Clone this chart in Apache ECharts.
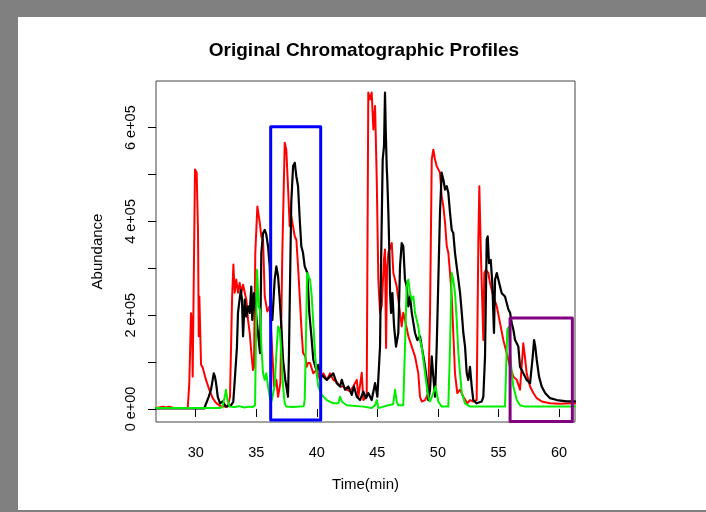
<!DOCTYPE html>
<html>
<head>
<meta charset="utf-8">
<script src="https://cdn.jsdelivr.net/npm/echarts@6/dist/echarts.min.js"></script>
<style>html,body{margin:0;padding:0;background:#fff}#c{width:706px;height:512px}</style>
</head>
<body>
<div id="c"></div>
<script>
const chartTitle = 'Original Chromatographic Profiles';
const xName = 'Time(min)';
const yName = 'Abundance';
const xTicks = [30, 35, 40, 45, 50, 55, 60];
const yTicks = [0, 100000, 200000, 300000, 400000, 500000, 600000];
const yLabelTicks = [0, 200000, 400000, 600000];

const redData = [
[26.72,2000],[27.30,5000],[27.55,3000],[27.80,5000],[28.20,2000],[29.34,2000],[29.47,55000],[29.61,204000],[29.69,184000],[29.75,69000],[29.94,511000],[30.08,504000],[30.19,376000],[30.25,155000],[30.30,240000],[30.44,95000],[30.58,88000],[30.85,62000],[31.12,41000],[31.40,23000],[31.68,13000],[32.09,5000],[32.64,5000],[32.83,26000],[33.00,233000],[33.11,308000],[33.22,248000],[33.35,276000],[33.49,248000],[33.63,269000],[33.77,248000],[33.91,265000],[34.05,248000],[34.18,233000],[34.32,190000],[34.46,162000],[34.59,120000],[34.73,83000],[34.81,90000],[34.92,333000],[35.09,432000],[35.20,430000],[35.29,397000],[35.42,368000],[35.56,361000],[35.70,240000],[35.91,208000],[36.11,219000],[36.24,162000],[36.47,48000],[36.66,62000],[36.80,26000],[36.99,55000],[37.15,333000],[37.35,568000],[37.48,553000],[37.62,475000],[37.76,390000],[37.89,411000],[38.04,411000],[38.18,368000],[38.31,361000],[38.45,304000],[38.59,240000],[38.72,176000],[38.86,120000],[39.05,112000],[39.17,90000],[39.27,98000],[39.44,98000],[39.71,76000],[39.99,83000],[40.26,62000],[40.54,76000],[40.82,62000],[41.09,76000],[41.36,62000],[41.64,58000],[41.92,48000],[42.19,48000],[42.47,41000],[42.74,38000],[43.01,48000],[43.30,62000],[43.43,26000],[43.71,77000],[43.84,19000],[44.12,26000],[44.25,675000],[44.39,660000],[44.53,675000],[44.67,596000],[44.81,646000],[44.95,489000],[45.08,276000],[45.22,205000],[45.36,220000],[45.55,320000],[45.63,340000],[45.72,130000],[45.80,300000],[45.91,333000],[46.19,354000],[46.32,290000],[46.60,261000],[46.87,205000],[47.01,176000],[47.14,205000],[47.28,190000],[47.56,155000],[47.84,133000],[48.11,112000],[48.38,76000],[48.52,26000],[48.66,16000],[48.94,19000],[49.21,34000],[49.35,205000],[49.49,532000],[49.62,553000],[49.76,532000],[49.90,518000],[50.03,521000],[50.17,504000],[50.31,454000],[50.45,432000],[50.59,397000],[50.73,347000],[50.86,333000],[51.00,290000],[51.14,240000],[51.27,162000],[51.41,76000],[51.60,34000],[51.83,41000],[52.10,26000],[52.43,12000],[52.65,19000],[52.92,16000],[53.20,19000],[53.34,361000],[53.42,475000],[53.54,340000],[53.67,340000],[53.75,147000],[53.83,290000],[53.97,297000],[54.16,290000],[54.30,269000],[54.58,240000],[54.86,219000],[55.13,183000],[55.40,147000],[55.68,119000],[55.96,90000],[56.23,69000],[56.51,62000],[56.78,41000],[57.05,140000],[57.19,110000],[57.33,76000],[57.61,48000],[57.88,34000],[58.16,23000],[58.57,16000],[59.26,12000],[60.08,11000],[61.18,12000],[61.32,12000]
];

const blackData = [
[26.72,1000],[30.70,1000],[30.85,5000],[31.07,26000],[31.26,41000],[31.40,62000],[31.49,76000],[31.59,69000],[31.68,55000],[31.82,26000],[32.01,12000],[32.23,16000],[32.50,5000],[32.92,8000],[33.10,15000],[33.22,60000],[33.40,130000],[33.49,205000],[33.72,254000],[33.82,233000],[33.91,155000],[34.05,233000],[34.18,197000],[34.32,219000],[34.46,205000],[34.59,261000],[34.67,190000],[34.81,247000],[34.92,219000],[35.09,176000],[35.20,147000],[35.31,119000],[35.42,333000],[35.56,375000],[35.70,382000],[35.83,372000],[35.97,347000],[36.11,304000],[36.19,219000],[36.33,190000],[36.52,276000],[36.66,304000],[36.80,283000],[36.94,233000],[37.07,176000],[37.21,105000],[37.40,62000],[37.62,26000],[37.70,119000],[37.89,440000],[38.04,518000],[38.18,525000],[38.31,496000],[38.45,475000],[38.59,404000],[38.72,347000],[38.86,333000],[39.00,304000],[39.22,290000],[39.38,205000],[39.58,147000],[39.71,105000],[39.96,83000],[40.12,94000],[40.26,76000],[40.54,69000],[40.82,62000],[41.09,69000],[41.36,76000],[41.64,55000],[41.92,48000],[42.06,62000],[42.33,41000],[42.60,48000],[42.88,30000],[43.07,48000],[43.30,26000],[43.57,19000],[43.84,37000],[44.06,23000],[44.25,34000],[44.53,19000],[44.81,55000],[45.00,26000],[45.22,133000],[45.30,300000],[45.44,532000],[45.55,561000],[45.63,675000],[45.69,596000],[45.77,518000],[45.82,489000],[45.91,418000],[45.99,333000],[46.05,247000],[46.13,205000],[46.24,247000],[46.38,176000],[46.54,133000],[46.73,162000],[46.87,304000],[47.01,354000],[47.14,347000],[47.28,276000],[47.42,261000],[47.56,219000],[47.70,240000],[47.84,205000],[47.97,205000],[48.11,162000],[48.30,147000],[48.52,155000],[48.66,133000],[48.80,112000],[48.94,90000],[49.08,62000],[49.21,19000],[49.35,41000],[49.49,112000],[49.62,69000],[49.76,26000],[49.90,133000],[50.17,418000],[50.31,504000],[50.45,489000],[50.59,468000],[50.73,475000],[50.86,461000],[51.00,418000],[51.14,382000],[51.27,375000],[51.41,333000],[51.55,304000],[51.69,276000],[51.83,247000],[51.97,205000],[52.10,162000],[52.24,133000],[52.38,76000],[52.51,62000],[52.65,90000],[52.79,48000],[52.92,19000],[53.20,12000],[53.62,16000],[53.75,26000],[53.89,112000],[54.03,361000],[54.11,368000],[54.22,311000],[54.36,318000],[54.49,269000],[54.63,162000],[54.72,276000],[54.86,290000],[54.99,276000],[55.13,261000],[55.27,247000],[55.40,247000],[55.54,240000],[55.68,226000],[55.82,212000],[55.96,205000],[56.10,183000],[56.23,169000],[56.37,147000],[56.51,140000],[56.64,133000],[56.78,90000],[56.92,83000],[57.05,76000],[57.19,69000],[57.33,62000],[57.61,55000],[57.83,112000],[57.94,147000],[58.04,133000],[58.16,105000],[58.35,69000],[58.57,48000],[58.85,34000],[59.26,23000],[59.81,19000],[60.64,16000],[61.32,16000]
];

const greenData = [
[26.72,2000],[32.00,2000],[32.20,5000],[32.40,26000],[32.50,41000],[32.62,19000],[32.80,5000],[33.20,4000],[33.60,6000],[34.00,3000],[34.40,5000],[34.70,4000],[34.90,8000],[35.05,297000],[35.09,283000],[35.20,219000],[35.31,212000],[35.42,133000],[35.56,76000],[35.70,62000],[35.83,76000],[35.97,48000],[36.11,26000],[36.24,15000],[36.52,48000],[36.66,119000],[36.80,176000],[36.94,169000],[37.07,119000],[37.21,48000],[37.35,12000],[37.48,5000],[38.00,4000],[38.60,5000],[38.92,6000],[39.00,20000],[39.08,119000],[39.20,290000],[39.44,276000],[39.58,240000],[39.71,183000],[39.85,119000],[39.99,76000],[40.12,48000],[40.40,30000],[40.82,19000],[41.36,12000],[41.78,12000],[41.92,26000],[42.06,16000],[42.47,8000],[43.84,5000],[44.53,2000],[44.81,8000],[44.95,19000],[45.08,2000],[45.36,4000],[45.91,8000],[46.30,10000],[46.46,41000],[46.60,15000],[46.73,8000],[47.14,8000],[47.28,133000],[47.42,261000],[47.56,276000],[47.70,247000],[47.84,233000],[47.97,240000],[48.11,205000],[48.25,190000],[48.38,176000],[48.52,147000],[48.66,133000],[48.80,105000],[48.94,76000],[49.08,48000],[49.21,26000],[49.35,16000],[49.62,34000],[49.80,48000],[50.03,16000],[50.31,5000],[50.86,5000],[51.00,133000],[51.14,290000],[51.27,276000],[51.41,247000],[51.55,190000],[51.69,119000],[51.83,76000],[51.97,34000],[52.24,12000],[52.65,5000],[55.54,5000],[55.62,76000],[55.73,170000],[55.85,175000],[55.96,120000],[56.10,76000],[56.23,48000],[56.51,19000],[56.78,8000],[57.20,5000],[61.32,5000]
];

// [xmin, xmax, ymin, ymax]
const blueBox = [36.19, 40.32, -23500, 602000];
const purpleBox = [55.96, 61.10, -27000, 194000];

function boxPath(b) {
  return [[b[0], b[2]], [b[0], b[3]], [b[1], b[3]], [b[1], b[2]], [b[0], b[2]]];
}

const FONT = 'Liberation Sans';
const chart = echarts.init(document.getElementById('c'), null, { renderer: 'canvas' });

const lineSeries = (name, data, color, w) => ({
  name, type: 'line', data, showSymbol: false, symbol: 'none', animation: false,
  lineStyle: { color, width: w, cap: 'round', join: 'round' }, z: 3
});

chart.setOption({
  backgroundColor: '#ffffff',
  animation: false,
  title: {
    text: chartTitle, left: 359, top: 36, textAlign: 'center',
    textStyle: { fontFamily: FONT, fontSize: 19, fontWeight: 'bold', color: '#000' }
  },
  graphic: [
    { type: 'rect', shape: { x: 0, y: 0, width: 706, height: 17 }, style: { fill: '#808080' }, z: -1 },
    { type: 'rect', shape: { x: 0, y: 0, width: 18, height: 512 }, style: { fill: '#808080' }, z: -1 },
    { type: 'rect', shape: { x: 0, y: 510, width: 706, height: 2 }, style: { fill: '#808080' }, z: -1 }
  ],
  grid: { left: 156, right: 131, top: 81, bottom: 90, show: true, borderColor: '#444', borderWidth: 1, backgroundColor: 'transparent' },
  xAxis: {
    type: 'value', min: 26.72, max: 61.32,
    name: xName, nameLocation: 'middle', nameGap: 55,
    nameTextStyle: { fontFamily: FONT, fontSize: 15, color: '#000' },
    axisLine: { show: false },
    splitLine: { show: false },
    axisTick: { show: true, length: 8, inside: false, customValues: xTicks, lineStyle: { color: '#000', width: 1 } },
    axisLabel: { show: true, margin: 23, customValues: xTicks, fontFamily: FONT, fontSize: 14.5, color: '#000' }
  },
  yAxis: {
    type: 'value', min: -27800, max: 699500,
    name: yName, nameLocation: 'middle', nameGap: 51, nameRotate: 90,
    nameTextStyle: { fontFamily: FONT, fontSize: 15, color: '#000' },
    axisLine: { show: false },
    splitLine: { show: false },
    axisTick: { show: true, length: 8, inside: false, customValues: yTicks, lineStyle: { color: '#000', width: 1 } },
    axisLabel: {
      show: true, rotate: 90, margin: 18, customValues: yLabelTicks,
      fontFamily: FONT, fontSize: 14.5, color: '#000',
      formatter: v => (v / 100000) + ' e+0' + (v === 0 ? '0' : '5')
    }
  },
  series: [
    lineSeries('red', redData, '#ff0000', 2),
    lineSeries('black', blackData, '#000000', 2.2),
    lineSeries('green', greenData, '#00ee00', 2),
    Object.assign(lineSeries('blueBox', boxPath(blueBox), '#0000ff', 3), { clip: false, z: 4 }),
    Object.assign(lineSeries('purpleBox', boxPath(purpleBox), '#800080', 3), { clip: false, z: 4 })
  ]
});
</script>
</body>
</html>
